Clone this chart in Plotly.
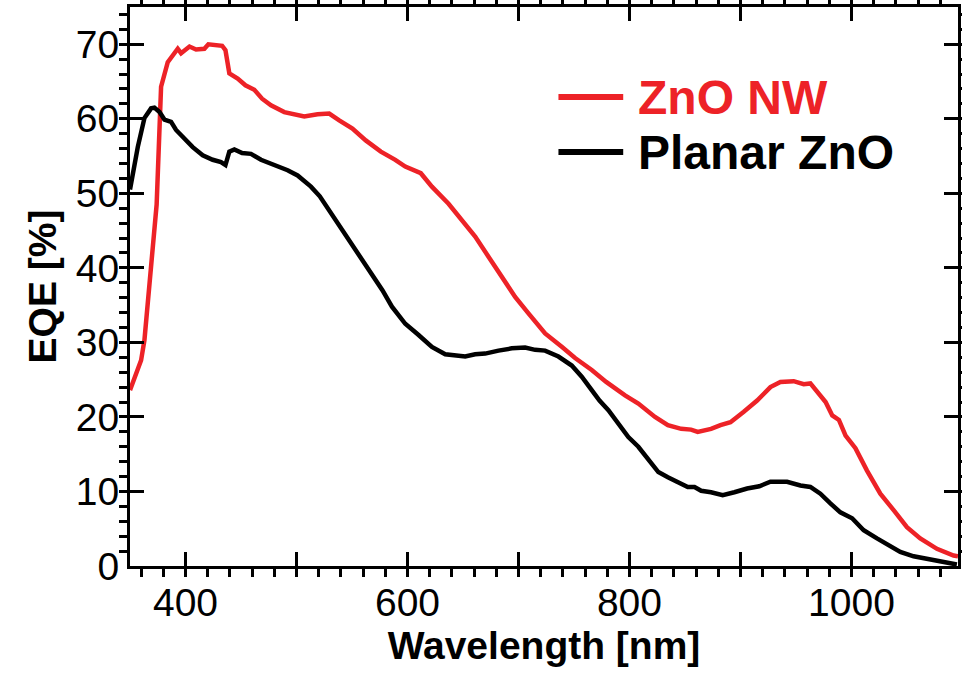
import plotly.graph_objects as go

# ZnO NW (red)
nw_wl = [350, 360, 363, 368, 371, 374, 378, 384, 393, 396, 403.6, 409.5, 417, 420.6, 433, 436, 439.5,
         447, 454, 462, 469, 477, 489, 498, 507, 519, 529.5, 538.5, 550.4, 562.4, 576, 589, 598, 612,
         622, 637, 649, 661, 673, 685, 697, 709, 724, 739, 751, 766, 779, 796, 808, 823, 834.6, 846.6,
         855.5, 861.5, 873.5, 882, 891, 903, 915, 927, 936, 948, 957, 963, 969, 976.7, 982.7, 988.7,
         994.7, 1003.6, 1014, 1026, 1038, 1050, 1062, 1077, 1092, 1096]
nw_eqe = [23.6, 27.6, 30.3, 38.0, 43.7, 48.5, 64.3, 67.6, 69.4, 68.8, 69.7, 69.3, 69.4, 70.0, 69.8, 69.2,
          66.1, 65.4, 64.5, 63.9, 62.7, 61.8, 60.9, 60.6, 60.3, 60.6, 60.7, 59.8, 58.7, 57.1, 55.6, 54.5,
          53.6, 52.7, 50.9, 48.6, 46.4, 44.2, 41.5, 38.8, 36.1, 33.9, 31.2, 29.4, 27.9, 26.3, 24.7, 22.9,
          21.8, 20.0, 18.9, 18.4, 18.3, 18.0, 18.4, 18.9, 19.3, 20.7, 22.2, 24.0, 24.7, 24.8, 24.4, 24.5,
          23.3, 22.0, 20.2, 19.6, 17.5, 15.8, 12.8, 9.7, 7.5, 5.2, 3.7, 2.3, 1.4, 1.3]

# Planar ZnO (black)
pl_wl = [350, 357, 363, 369, 372, 376.6, 381, 387, 391.5, 399, 406.5, 415.5, 424.5, 432, 436, 439.5, 444,
         451, 459, 468, 480, 492, 501, 513, 521, 529.5, 541, 553.5, 565, 577.4, 586, 598, 610, 622, 634,
         646, 652, 661, 670, 682, 694, 706, 715, 724, 736, 748, 757, 766, 773, 781, 790, 799, 808, 817,
         826, 834.6, 843.6, 852.5, 858.6, 864.6, 873.5, 884, 894.5, 906, 917, 927, 942, 954, 963, 972,
         981, 990, 1000.6, 1011, 1023, 1035, 1044, 1056, 1068, 1080, 1095]
pl_eqe = [50.5, 56.2, 60.1, 61.4, 61.5, 60.9, 59.9, 59.6, 58.5, 57.4, 56.2, 55.1, 54.5, 54.2, 53.8, 55.6,
          55.9, 55.4, 55.3, 54.5, 53.8, 53.1, 52.4, 50.9, 49.6, 47.7, 45.1, 42.4, 39.7, 37.0, 34.8, 32.5,
          31.0, 29.4, 28.4, 28.1, 28.1, 28.4, 28.5, 28.9, 29.2, 29.3, 29.0, 28.9, 28.1, 26.9, 25.4, 23.6,
          22.2, 20.9, 19.1, 17.3, 16.0, 14.4, 12.6, 11.9, 11.3, 10.6, 10.6, 10.1, 9.9, 9.5, 9.9, 10.4,
          10.7, 11.3, 11.3, 10.8, 10.6, 9.7, 8.4, 7.2, 6.4, 4.8, 3.7, 2.6, 1.9, 1.3, 1.0, 0.7, 0.2]

x_major = [400, 500, 600, 700, 800, 900, 1000]
x_labels = ["400", "", "600", "", "800", "", "1000"]
y_major = [0, 10, 20, 30, 40, 50, 60, 70]
y_labels = ["0", "10", "20", "30", "40", "50", "60", "70"]

RED = "#ED2227"
FONT = "Arial"

fig = go.Figure()
fig.add_trace(go.Scatter(x=nw_wl, y=nw_eqe, mode="lines", name="ZnO NW",
                         line=dict(color=RED, width=4.5), showlegend=False))
fig.add_trace(go.Scatter(x=pl_wl, y=pl_eqe, mode="lines", name="Planar ZnO",
                         line=dict(color="black", width=4.5), showlegend=False))

W, H = 962, 673
L, R, T, B = 130, 1, 7, 107
pw, ph = W - L - R, H - T - B

def px(xp):
    return (xp - L) / pw

def py(yp):
    return (H - B - yp) / ph

for yy, name, col in [(97, "ZnO NW", RED), (152, "Planar ZnO", "black")]:
    fig.add_shape(type="line", xref="paper", yref="paper", x0=px(560), x1=px(625),
                  y0=py(yy), y1=py(yy), line=dict(color=col, width=6))
    fig.add_annotation(xref="paper", yref="paper", x=px(638), y=py(yy), xanchor="left",
                       yanchor="middle", text="<b>%s</b>" % name, showarrow=False,
                       font=dict(family=FONT, size=48, color=col))

fig.update_xaxes(range=[350, 1096], tickmode="array", tickvals=x_major, ticktext=x_labels,
                 ticks="inside", ticklen=14, tickwidth=3, tickcolor="black",
                 showline=True, linewidth=3, linecolor="black", mirror="ticks",
                 showgrid=False, zeroline=False,
                 minor=dict(dtick=20, tick0=0, ticklen=8, tickwidth=3, tickcolor="black"),
                 tickfont=dict(family=FONT, size=39, color="black"),
                 title=dict(text="<b>Wavelength [nm]</b>", font=dict(family=FONT, size=39, color="black"),
                            standoff=4))
fig.update_yaxes(range=[0, 75], tickmode="array", tickvals=y_major, ticktext=y_labels,
                 ticks="inside", ticklen=14, tickwidth=3, tickcolor="black",
                 showline=True, linewidth=3, linecolor="black", mirror="ticks",
                 showgrid=False, zeroline=False,
                 minor=dict(dtick=2, tick0=0, ticklen=8, tickwidth=3, tickcolor="black"),
                 tickfont=dict(family=FONT, size=39, color="black"),
                 title=dict(text="<b>EQE [%]</b>", font=dict(family=FONT, size=39, color="black"),
                            standoff=8))

fig.update_layout(width=W, height=H, margin=dict(l=L, r=R, t=T, b=B),
                  plot_bgcolor="white")

fig.write_html("out.html")
